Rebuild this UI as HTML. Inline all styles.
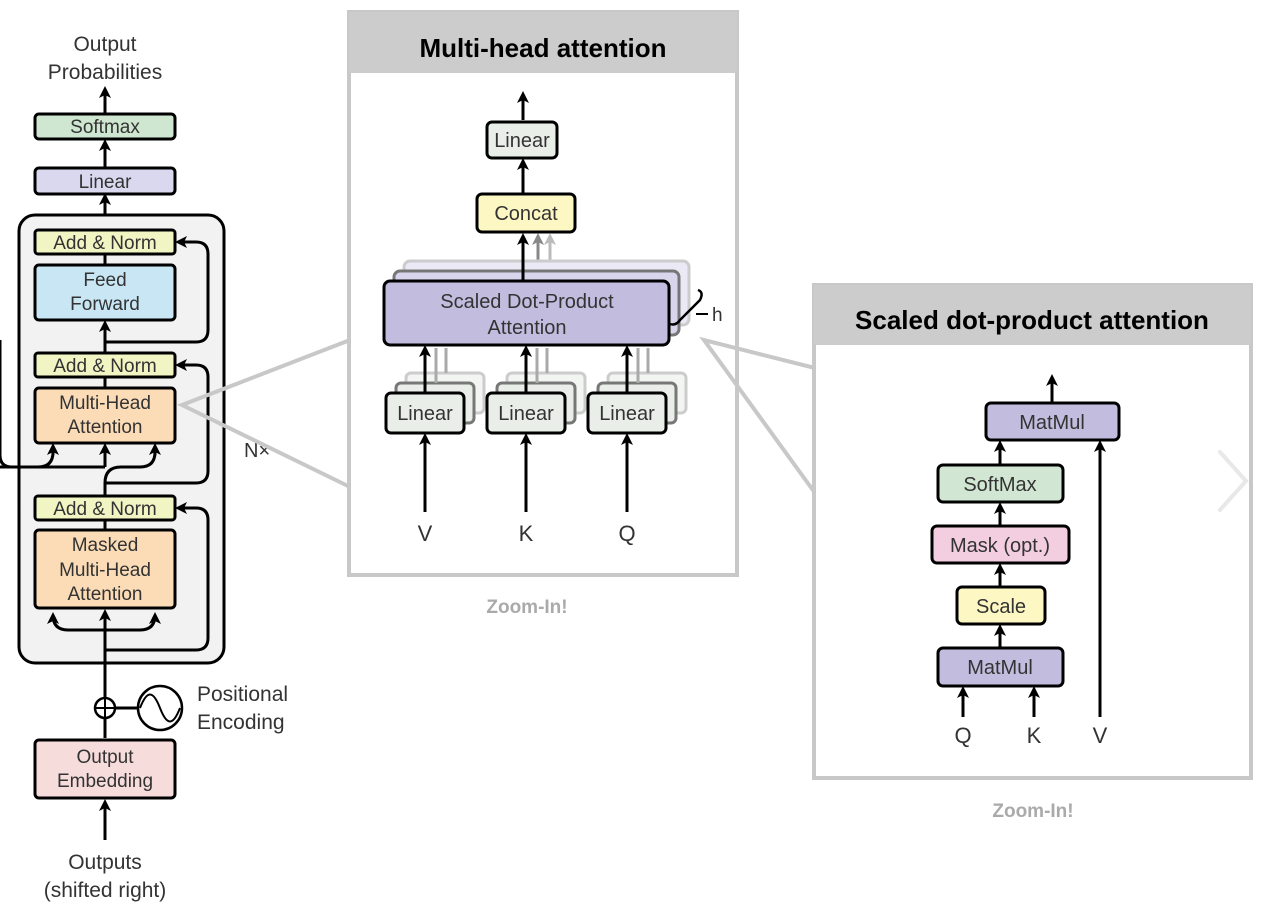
<!DOCTYPE html>
<html><head><meta charset="utf-8"><style>
html,body{margin:0;padding:0;background:#fff;}
svg text{font-family:"Liberation Sans",sans-serif;fill:#333;}
</style></head><body>
<svg width="1266" height="910" viewBox="0 0 1266 910" xmlns="http://www.w3.org/2000/svg">
<defs>
<marker id="ar" markerWidth="12" markerHeight="12" refX="9" refY="6" orient="auto" markerUnits="userSpaceOnUse">
<path d="M0,0 L12,6 L0,12 L3,6 Z" fill="#000"/></marker>
<marker id="arg" markerWidth="12" markerHeight="12" refX="9" refY="6" orient="auto" markerUnits="userSpaceOnUse">
<path d="M0,0 L12,6 L0,12 L3,6 Z" fill="#888"/></marker>
<marker id="arl" markerWidth="12" markerHeight="12" refX="9" refY="6" orient="auto" markerUnits="userSpaceOnUse">
<path d="M0,0 L12,6 L0,12 L3,6 Z" fill="#bbb"/></marker>
</defs>

<!-- LEFT DECODER -->
<text x="105" y="51" font-size="21" text-anchor="middle">Output</text>
<text x="105" y="79" font-size="21" text-anchor="middle">Probabilities</text>
<g stroke="#000" stroke-width="3" fill="none">
<line x1="105" y1="113" x2="105" y2="89" marker-end="url(#ar)"/>
<line x1="105" y1="167" x2="105" y2="142" marker-end="url(#ar)"/>
<line x1="105" y1="228" x2="105" y2="196" marker-end="url(#ar)"/>
</g>
<rect x="35" y="114" width="140" height="25" rx="4" fill="#cfe6d0" stroke="#000" stroke-width="3"/>
<text x="105" y="133" font-size="19" text-anchor="middle">Softmax</text>
<rect x="35" y="168" width="140" height="26" rx="4" fill="#d9d8ef" stroke="#000" stroke-width="3"/>
<text x="105" y="188" font-size="19" text-anchor="middle">Linear</text>

<rect x="19" y="215" width="205" height="448" rx="16" fill="#f2f2f2" stroke="#000" stroke-width="3"/>

<g stroke="#000" stroke-width="3" fill="none">
<line x1="105" y1="840" x2="105" y2="802" marker-end="url(#ar)"/>
<line x1="105" y1="738" x2="105" y2="719"/>
<line x1="105" y1="698" x2="105" y2="612" marker-end="url(#ar)"/>
<line x1="105" y1="520" x2="105" y2="530"/>
<line x1="105" y1="496" x2="105" y2="483"/>
<path d="M105,483 Q105,467 121,467 L140,467 Q155,467 155,452" />
<line x1="155" y1="455" x2="155" y2="446" marker-end="url(#ar)"/>
<line x1="105" y1="467" x2="105" y2="446" marker-end="url(#ar)"/>
<path d="M0,340 L0,455 Q0,467 12,467 L38,467 Q53,467 53,452"/>
<line x1="53" y1="455" x2="53" y2="446" marker-end="url(#ar)"/>
<line x1="0" y1="467" x2="105" y2="467"/>
<line x1="105" y1="377" x2="105" y2="388"/>
<line x1="105" y1="353" x2="105" y2="323" marker-end="url(#ar)"/>
<line x1="105" y1="254" x2="105" y2="265"/>
<path d="M105,630 L68,630 Q53,630 53,615" marker-end="url(#ar)"/>
<path d="M105,630 L140,630 Q155,630 155,615" marker-end="url(#ar)"/>
<path d="M105,650 L196,650 Q208,650 208,638 L208,520 Q208,508 196,508 L178,508" marker-end="url(#ar)"/>
<path d="M105,483 L196,483 Q208,483 208,471 L208,377 Q208,365 196,365 L178,365" marker-end="url(#ar)"/>
<path d="M105,342 L196,342 Q208,342 208,330 L208,254 Q208,242 196,242 L178,242" marker-end="url(#ar)"/>
<line x1="115" y1="708" x2="138" y2="708"/>
</g>
<rect x="35" y="230" width="140" height="24" rx="3" fill="#f1f4c3" stroke="#000" stroke-width="3"/>
<text x="105" y="249" font-size="19" text-anchor="middle">Add &amp; Norm</text>
<rect x="35" y="265" width="140" height="55" rx="4" fill="#c8e6f4" stroke="#000" stroke-width="3"/>
<text x="105" y="286" font-size="19" text-anchor="middle">Feed</text>
<text x="105" y="310" font-size="19" text-anchor="middle">Forward</text>
<rect x="35" y="353" width="140" height="24" rx="3" fill="#f1f4c3" stroke="#000" stroke-width="3"/>
<text x="105" y="372" font-size="19" text-anchor="middle">Add &amp; Norm</text>
<rect x="35" y="388" width="140" height="55" rx="4" fill="#fbdcb7" stroke="#000" stroke-width="3"/>
<text x="105" y="409" font-size="19" text-anchor="middle">Multi-Head</text>
<text x="105" y="433" font-size="19" text-anchor="middle">Attention</text>
<rect x="35" y="496" width="140" height="24" rx="3" fill="#f1f4c3" stroke="#000" stroke-width="3"/>
<text x="105" y="515" font-size="19" text-anchor="middle">Add &amp; Norm</text>
<rect x="35" y="530" width="140" height="78" rx="4" fill="#fbdcb7" stroke="#000" stroke-width="3"/>
<text x="105" y="551" font-size="19" text-anchor="middle">Masked</text>
<text x="105" y="576" font-size="19" text-anchor="middle">Multi-Head</text>
<text x="105" y="600" font-size="19" text-anchor="middle">Attention</text>
<text x="244" y="457" font-size="20">N×</text>

<circle cx="105" cy="708" r="10" fill="#fff" stroke="#000" stroke-width="2.5"/>
<line x1="95" y1="708" x2="115" y2="708" stroke="#000" stroke-width="2"/>
<line x1="105" y1="698" x2="105" y2="718" stroke="#000" stroke-width="2"/>
<circle cx="160" cy="708" r="22" fill="#fff" stroke="#000" stroke-width="2.5"/>
<path d="M140,708 C147,690 153,690 160,708 C167,726 173,726 180,708" fill="none" stroke="#000" stroke-width="2"/>
<text x="197" y="701" font-size="21">Positional</text>
<text x="197" y="729" font-size="21">Encoding</text>

<rect x="35" y="740" width="140" height="58" rx="4" fill="#f7dcdc" stroke="#000" stroke-width="3"/>
<text x="105" y="763" font-size="19" text-anchor="middle">Output</text>
<text x="105" y="787" font-size="19" text-anchor="middle">Embedding</text>
<text x="105" y="869" font-size="21" text-anchor="middle">Outputs</text>
<text x="105" y="897" font-size="21" text-anchor="middle">(shifted right)</text>

<!-- zoom lines left -->
<polyline points="350,340 182,405 350,487" fill="none" stroke="#c8c8c8" stroke-width="4"/>

<!-- MIDDLE PANEL -->
<rect x="349" y="12" width="388" height="563" fill="#fff" stroke="#c8c8c8" stroke-width="4"/>
<rect x="349" y="12" width="388" height="61" fill="#cccccc"/>
<text x="543" y="57" font-size="26" font-weight="bold" text-anchor="middle" style="fill:#000">Multi-head attention</text>

<g stroke="#000" stroke-width="3" fill="none">
<line x1="523" y1="120" x2="523" y2="94" marker-end="url(#ar)"/>
<line x1="523" y1="193" x2="523" y2="161" marker-end="url(#ar)"/>
</g>
<rect x="487" y="122" width="70" height="36" rx="5" fill="#e9eee9" stroke="#000" stroke-width="3"/>
<text x="522" y="147" font-size="20" text-anchor="middle">Linear</text>
<rect x="477" y="194" width="98" height="38" rx="5" fill="#fdf8c3" stroke="#000" stroke-width="3"/>
<text x="526" y="220" font-size="20" text-anchor="middle">Concat</text>

<line x1="550" y1="262" x2="550" y2="236" stroke="#bbb" stroke-width="3" marker-end="url(#arl)"/>
<line x1="538" y1="271" x2="538" y2="236" stroke="#888" stroke-width="3" marker-end="url(#arg)"/>
<rect x="404" y="261" width="285" height="64" rx="6" fill="#ebe9f5" stroke="#ccc" stroke-width="3"/>
<rect x="394" y="271" width="285" height="64" rx="6" fill="#d9d5ec" stroke="#777" stroke-width="3"/>
<line x1="523" y1="281" x2="523" y2="236" stroke="#000" stroke-width="3" marker-end="url(#ar)"/>
<rect x="384" y="281" width="285" height="64" rx="6" fill="#c2bcde" stroke="#000" stroke-width="3"/>
<text x="527" y="308" font-size="20" text-anchor="middle">Scaled Dot-Product</text>
<text x="527" y="334" font-size="20" text-anchor="middle">Attention</text>
<path d="M698,290 Q704,292 700,300 L680,320 Q676,326 670,324" fill="none" stroke="#000" stroke-width="2.5"/>
<line x1="696" y1="314" x2="708" y2="314" stroke="#000" stroke-width="2"/>
<text x="712" y="321" font-size="19">h</text>

<g fill="#f3f5f3" stroke="#ccc" stroke-width="3">
<rect x="406" y="373" width="78" height="40" rx="5"/>
<rect x="507" y="373" width="78" height="40" rx="5"/>
<rect x="608" y="373" width="78" height="40" rx="5"/>
</g>
<g fill="#e9eee9" stroke="#777" stroke-width="3">
<rect x="396" y="383" width="78" height="40" rx="5"/>
<rect x="497" y="383" width="78" height="40" rx="5"/>
<rect x="598" y="383" width="78" height="40" rx="5"/>
</g>
<g stroke="#aaa" stroke-width="3">
<line x1="446" y1="348" x2="446" y2="373"/><line x1="436" y1="348" x2="436" y2="383"/>
<line x1="547" y1="348" x2="547" y2="373"/><line x1="537" y1="348" x2="537" y2="383"/>
<line x1="648" y1="348" x2="648" y2="373"/><line x1="638" y1="348" x2="638" y2="383"/>
</g>
<g stroke="#000" stroke-width="3" fill="none">
<line x1="425" y1="393" x2="425" y2="348" marker-end="url(#ar)"/>
<line x1="526" y1="393" x2="526" y2="348" marker-end="url(#ar)"/>
<line x1="627" y1="393" x2="627" y2="348" marker-end="url(#ar)"/>
<line x1="425" y1="512" x2="425" y2="436" marker-end="url(#ar)"/>
<line x1="526" y1="512" x2="526" y2="436" marker-end="url(#ar)"/>
<line x1="627" y1="512" x2="627" y2="436" marker-end="url(#ar)"/>
</g>
<g fill="#e9eee9" stroke="#000" stroke-width="3">
<rect x="386" y="393" width="78" height="40" rx="5"/>
<rect x="487" y="393" width="78" height="40" rx="5"/>
<rect x="588" y="393" width="78" height="40" rx="5"/>
</g>
<text x="425" y="420" font-size="20" text-anchor="middle">Linear</text>
<text x="526" y="420" font-size="20" text-anchor="middle">Linear</text>
<text x="627" y="420" font-size="20" text-anchor="middle">Linear</text>
<text x="425" y="541" font-size="22" text-anchor="middle">V</text>
<text x="526" y="541" font-size="22" text-anchor="middle">K</text>
<text x="627" y="541" font-size="22" text-anchor="middle">Q</text>
<text x="527" y="613" font-size="19" font-weight="bold" text-anchor="middle" style="fill:#aaa">Zoom-In!</text>

<!-- zoom lines right -->
<polyline points="815,368 704,340 815,493" fill="none" stroke="#c8c8c8" stroke-width="4"/>

<!-- RIGHT PANEL -->
<rect x="814" y="285" width="437" height="493" fill="#fff" stroke="#c8c8c8" stroke-width="4"/>
<rect x="814" y="285" width="437" height="60" fill="#cccccc"/>
<text x="1032" y="329" font-size="26" font-weight="bold" text-anchor="middle" style="fill:#000">Scaled dot-product attention</text>

<g stroke="#000" stroke-width="3" fill="none">
<line x1="1052" y1="402" x2="1052" y2="377" marker-end="url(#ar)"/>
<line x1="1000" y1="465" x2="1000" y2="443" marker-end="url(#ar)"/>
<line x1="1000" y1="526" x2="1000" y2="505" marker-end="url(#ar)"/>
<line x1="1000" y1="587" x2="1000" y2="566" marker-end="url(#ar)"/>
<line x1="1000" y1="648" x2="1000" y2="627" marker-end="url(#ar)"/>
<line x1="963" y1="717" x2="963" y2="689" marker-end="url(#ar)"/>
<line x1="1034" y1="717" x2="1034" y2="689" marker-end="url(#ar)"/>
<line x1="1100" y1="717" x2="1100" y2="443" marker-end="url(#ar)"/>
</g>
<rect x="986" y="403" width="133" height="37" rx="5" fill="#c2bcde" stroke="#000" stroke-width="3"/>
<text x="1052" y="429" font-size="20" text-anchor="middle">MatMul</text>
<rect x="938" y="465" width="125" height="37" rx="5" fill="#d2e7d3" stroke="#000" stroke-width="3"/>
<text x="1000" y="491" font-size="20" text-anchor="middle">SoftMax</text>
<rect x="932" y="526" width="137" height="37" rx="5" fill="#f3cde0" stroke="#000" stroke-width="3"/>
<text x="1000" y="552" font-size="20" text-anchor="middle">Mask (opt.)</text>
<rect x="957" y="587" width="88" height="37" rx="5" fill="#fdf8c3" stroke="#000" stroke-width="3"/>
<text x="1001" y="613" font-size="20" text-anchor="middle">Scale</text>
<rect x="938" y="648" width="125" height="38" rx="5" fill="#c2bcde" stroke="#000" stroke-width="3"/>
<text x="1000" y="674" font-size="20" text-anchor="middle">MatMul</text>
<text x="963" y="743" font-size="22" text-anchor="middle">Q</text>
<text x="1034" y="743" font-size="22" text-anchor="middle">K</text>
<text x="1100" y="743" font-size="22" text-anchor="middle">V</text>
<polyline points="1220,452 1246,481 1220,510" fill="none" stroke="#e8e8e8" stroke-width="4" stroke-linecap="round"/>
<text x="1033" y="817" font-size="19" font-weight="bold" text-anchor="middle" style="fill:#aaa">Zoom-In!</text>
</svg>
</body></html>
